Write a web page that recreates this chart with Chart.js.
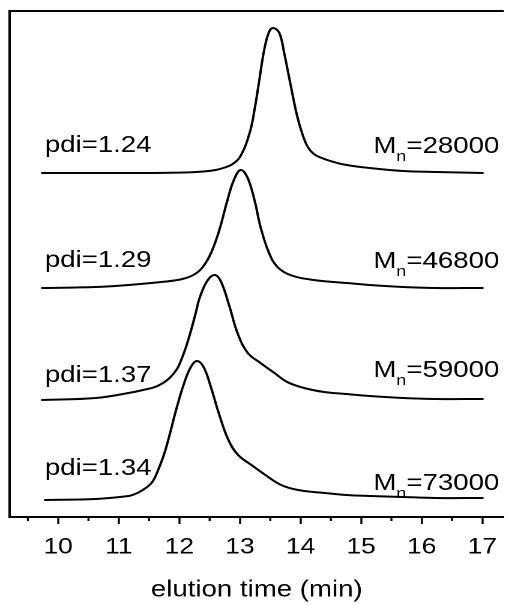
<!DOCTYPE html>
<html>
<head>
<meta charset="utf-8">
<script src="https://cdn.jsdelivr.net/npm/chart.js@4.4.1/dist/chart.umd.min.js"></script>
<style>
  html, body { margin: 0; padding: 0; background: #fff; overflow: hidden; }
  /* the source figure is stretched sideways, so draw narrow and widen */
  #wrap { width: 424px; height: 605px; transform: scaleX(1.2005); transform-origin: 0 0; }
</style>
</head>
<body>
<div id="wrap"><canvas id="gpc" width="424" height="605"></canvas></div>
<script>
// elution traces, stacked (signal in arbitrary units, offset per trace)
const time1   = [9.72, 10.67, 11.49, 12.10, 12.40, 12.60, 12.75, 12.88, 13.01, 13.16, 13.24, 13.32, 13.40, 13.48, 13.55, 13.65, 13.73, 13.83, 13.94, 14.03, 14.12, 14.22, 14.35, 14.55, 14.76, 15.14, 15.69, 16.23, 17.02];
const signal1 = [344, 344, 344, 344.5, 345.5, 347, 349.5, 353, 361, 384, 407, 437, 467, 485, 489, 484, 464, 434, 402, 383, 370, 363, 359, 355, 352, 349, 346, 345, 344];

const time2   = [9.72, 10.62, 11.16, 11.70, 12.05, 12.26, 12.40, 12.53, 12.66, 12.79, 12.90, 13.01, 13.12, 13.24, 13.34, 13.48, 13.62, 13.83, 14.22, 14.76, 15.14, 15.69, 16.23, 17.02];
const signal2 = [229, 230, 232, 235, 238, 243, 251, 265, 287, 316, 337, 347, 340, 317, 290, 264, 250, 242, 237, 234, 232, 230, 229, 229];

const time3   = [9.72, 10.62, 11.16, 11.40, 11.60, 11.73, 11.82, 11.90, 11.98, 12.05, 12.11, 12.19, 12.27, 12.34, 12.47, 12.59, 12.69, 12.83, 12.96, 13.13, 13.34, 13.57, 13.78, 14.06, 14.39, 14.76, 15.14, 15.69, 16.23, 17.02];
const signal3 = [117, 119, 124, 127, 130, 134, 138, 143, 150, 160, 170, 186, 204, 220, 237, 242, 235, 210, 184, 164, 154, 144, 135, 129, 125, 123, 121, 119, 118, 118];

const time4   = [9.77, 10.62, 11.16, 11.27, 11.37, 11.54, 11.65, 11.77, 11.96, 12.08, 12.19, 12.29, 12.40, 12.52, 12.65, 12.81, 12.97, 13.19, 13.42, 13.68, 13.96, 14.40, 14.76, 15.14, 15.69, 16.23, 17.02];
const signal4 = [17, 18, 21, 23, 26, 34, 47, 67, 110, 134, 150, 156, 150, 130, 104, 77, 62, 52, 42, 32, 27, 24, 22, 21, 20, 19, 19];

const pdiText  = ['pdi=1.24', 'pdi=1.29', 'pdi=1.37', 'pdi=1.34'];
const mnValues = ['28000', '46800', '59000', '73000'];

const majorTicks = [10, 11, 12, 13, 14, 15, 16, 17];
const minorTicks = [9.5, 10.5, 11.5, 12.5, 13.5, 14.5, 15.5, 16.5];

const FONT = '"Liberation Sans", Arial, sans-serif';

const traces = [[time1, signal1], [time2, signal2], [time3, signal3], [time4, signal4]];

// labels sit a few px above each trace's own baseline
const pdiRaise = [21, 21, 18, 25];
const mnRaise  = [20, 20, 22, 8];

const gpcDecor = {
  id: 'gpcDecor',
  afterDraw(chart) {
    const { ctx, chartArea: a, scales: { x, y } } = chart;
    ctx.save();
    ctx.strokeStyle = '#000';
    // top frame line
    ctx.lineWidth = 2;
    ctx.beginPath(); ctx.moveTo(a.left - 1, a.top); ctx.lineTo(a.right, a.top); ctx.stroke();
    // minor ticks
    ctx.lineWidth = 1.7;
    minorTicks.forEach((v) => {
      const px = x.getPixelForValue(v);
      ctx.beginPath(); ctx.moveTo(px, a.bottom); ctx.lineTo(px, a.bottom + 4); ctx.stroke();
    });
    // pdi / Mn labels
    ctx.fillStyle = '#000';
    ctx.textBaseline = 'alphabetic';
    chart.data.datasets.forEach((ds, i) => {
      const d = ds.data;
      ctx.font = `23px ${FONT}`;
      ctx.textAlign = 'left';
      ctx.fillText(pdiText[i], x.getPixelForValue(9.78), y.getPixelForValue(d[0].y) - pdiRaise[i]);

      const yr = y.getPixelForValue(d[d.length - 1].y) - mnRaise[i];
      const rest = '=' + mnValues[i];
      const wRest = ctx.measureText(rest).width;
      const wM = ctx.measureText('M').width;
      ctx.font = `15px ${FONT}`;
      const wn = ctx.measureText('n').width;
      const xEnd = x.getPixelForValue(17.28);
      const x0 = xEnd - wRest - wn - wM;
      ctx.font = `23px ${FONT}`;
      ctx.fillText('M', x0, yr);
      ctx.fillText(rest, x0 + wM + wn, yr);
      ctx.font = `15px ${FONT}`;
      ctx.fillText('n', x0 + wM, yr + 8);
    });
    ctx.restore();
  },
};

new Chart(document.getElementById('gpc'), {
  type: 'line',
  data: {
    datasets: traces.map(([t, s]) => ({
      data: t.map((v, k) => ({ x: v, y: s[k] })),
      borderColor: '#000',
      borderWidth: 2,
      pointRadius: 0,
      fill: false,
      tension: 0.4,
    })),
  },
  options: {
    responsive: false,
    animation: false,
    devicePixelRatio: 2,
    layout: { padding: { left: 8, top: 11, right: 0, bottom: 0 } },
    plugins: { legend: { display: false }, tooltip: { enabled: false } },
    scales: {
      x: {
        type: 'linear',
        min: 9.199,
        max: 17.356,
        afterBuildTicks: (s) => { s.ticks = majorTicks.map((v) => ({ value: v })); },
        afterFit: (s) => { s.height = 88; },
        ticks: { color: '#000', font: { family: FONT, size: 22 }, padding: 10, maxRotation: 0, autoSkip: false },
        grid: { display: true, drawOnChartArea: false, drawTicks: true, tickLength: 7, tickWidth: 1.7, tickColor: '#000' },
        border: { display: true, color: '#000', width: 2 },
        title: { display: true, text: 'elution time (min)', color: '#000', font: { family: FONT, size: 23 }, padding: { top: 0, bottom: 1 } },
      },
      y: {
        min: 0,
        max: 506,
        afterFit: (s) => { s.width = 0; },
        ticks: { display: false },
        grid: { display: false, drawTicks: false },
        border: { display: true, color: '#000', width: 2 },
      },
    },
  },
  plugins: [gpcDecor],
});
</script>
</body>
</html>
